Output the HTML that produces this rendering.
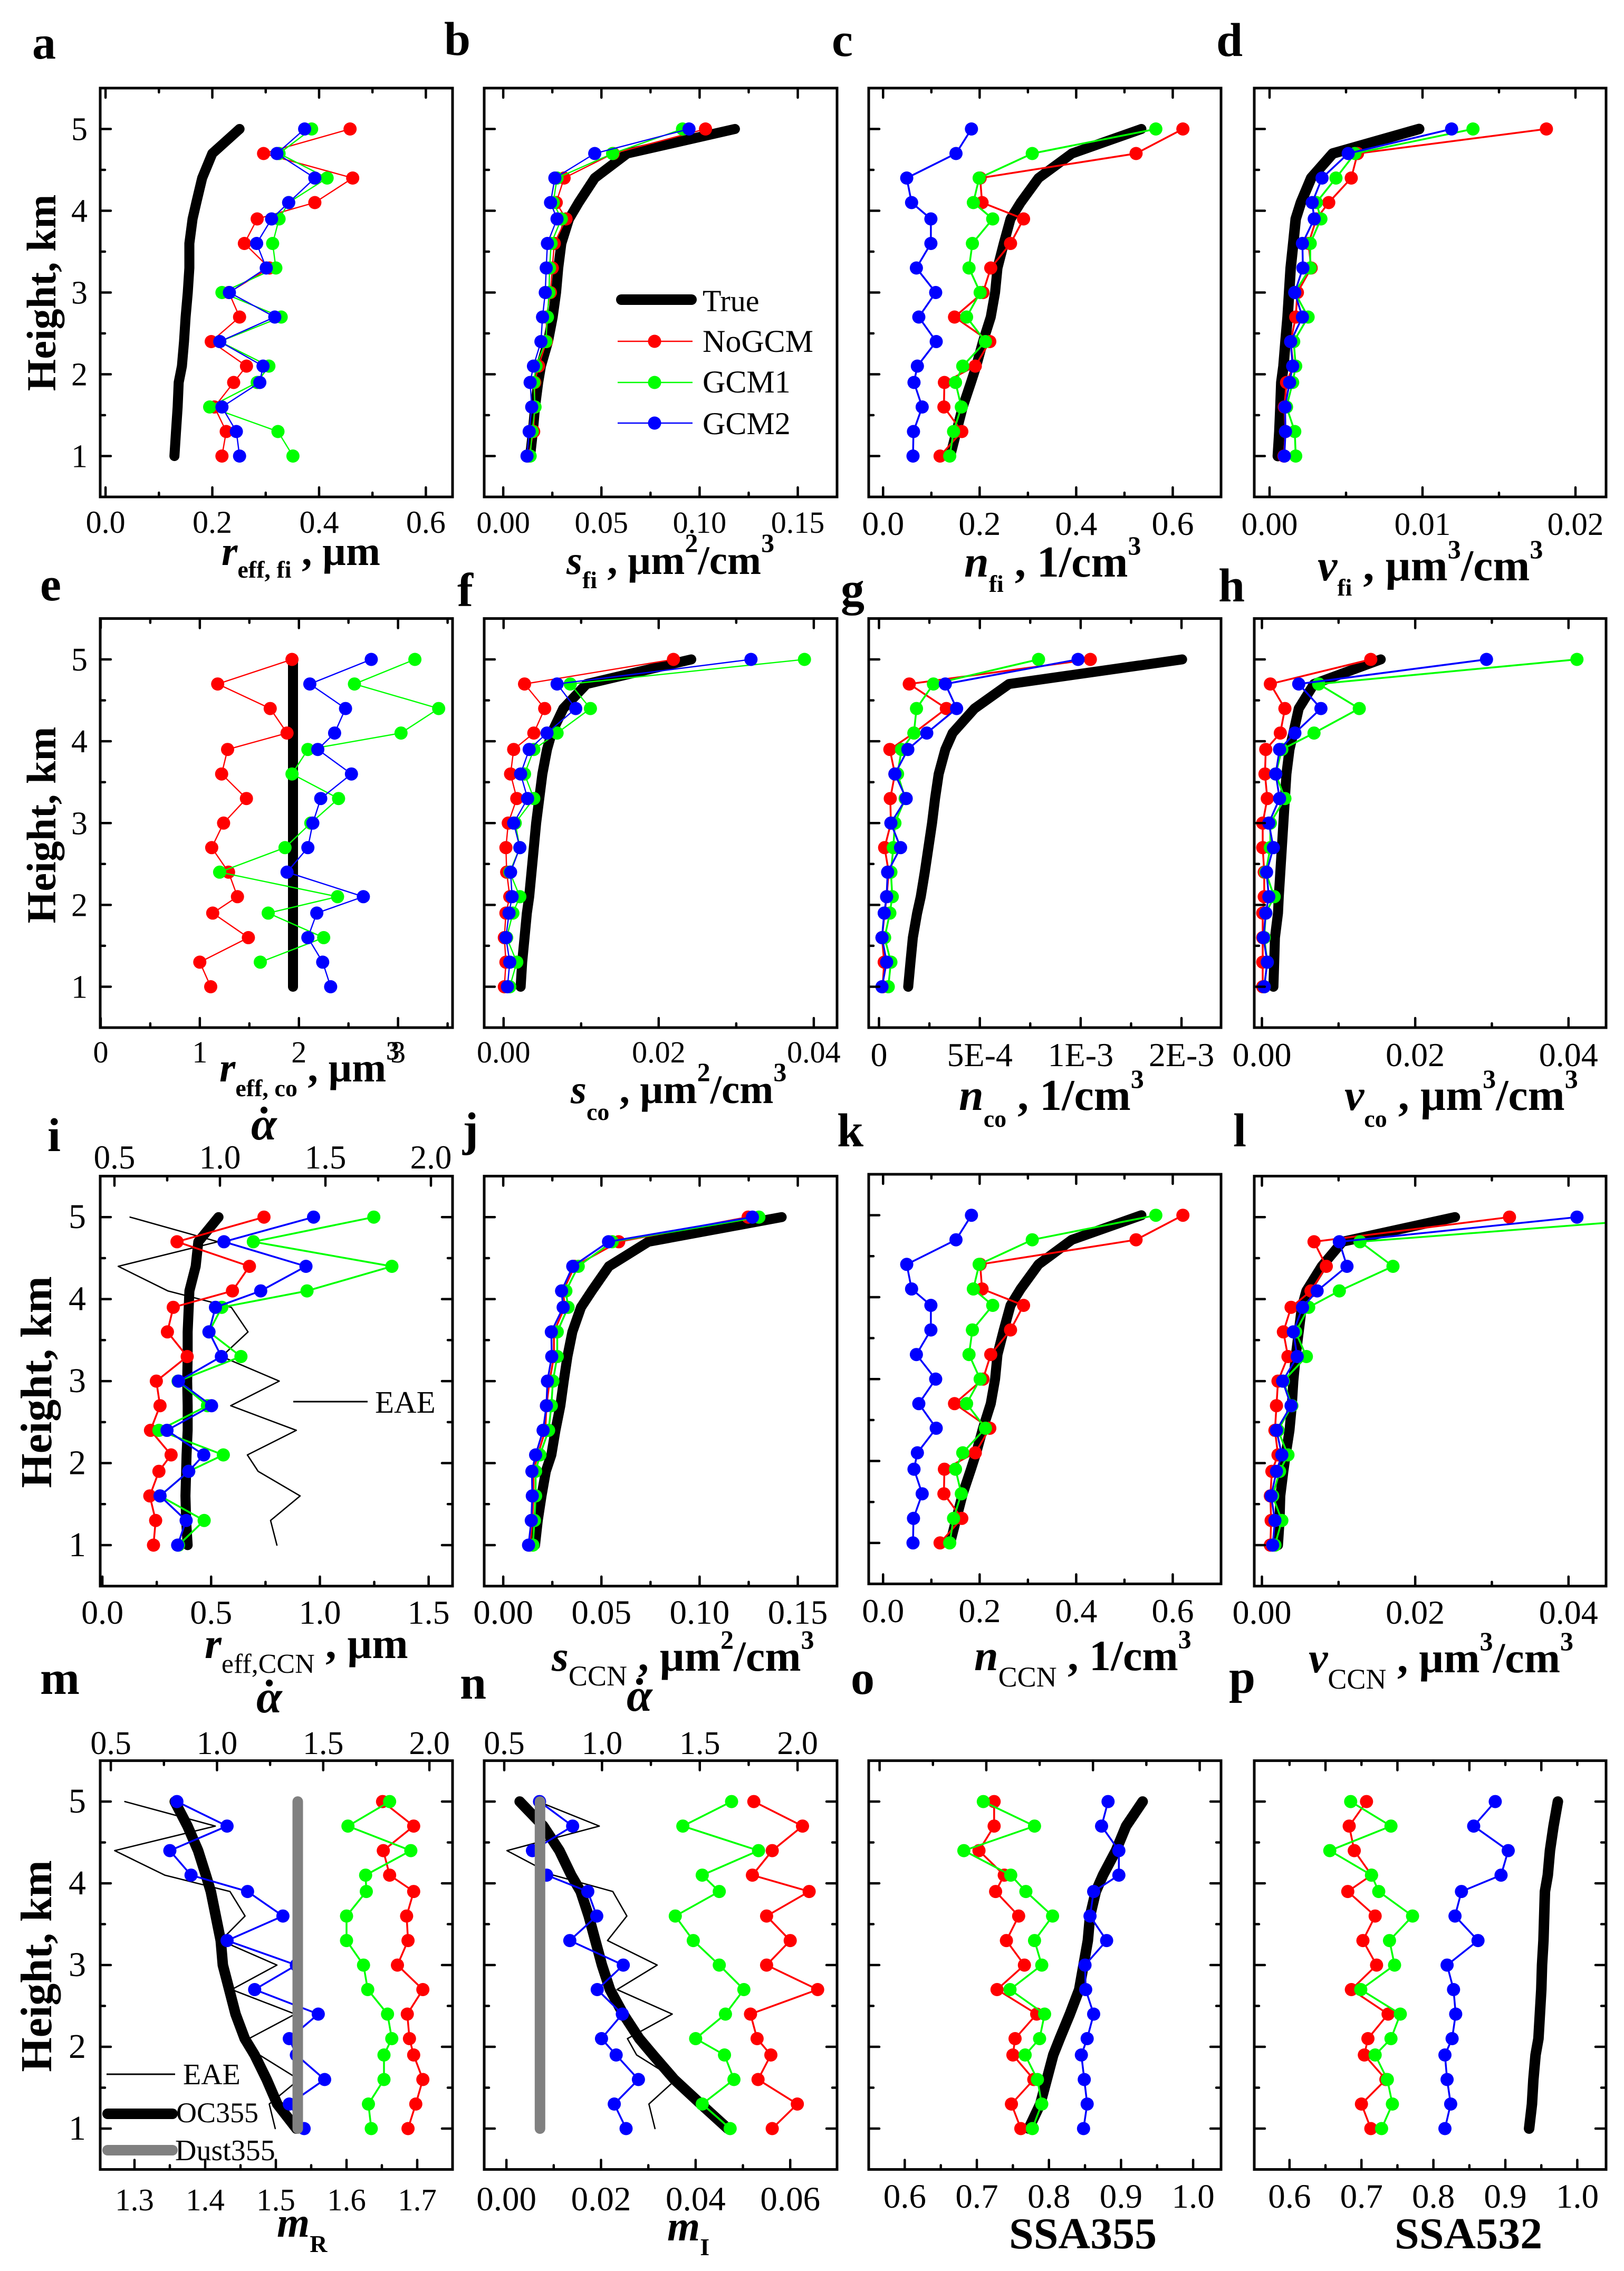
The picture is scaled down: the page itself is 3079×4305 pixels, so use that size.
<!DOCTYPE html>
<html lang="en">
<head>
<meta charset="utf-8">
<title>Vertical profile retrieval panels</title>
<style>
html,body{margin:0;padding:0;background:#fff}
svg{display:block}
text{font-family:"Liberation Serif",serif;fill:#000;white-space:pre}
.letter{font-size:90px;font-weight:bold}
.lab{font-size:80px;font-weight:bold}
.lab .i{font-style:italic}
.lab .s{font-size:46px}
.lab .u{font-size:50px}
.lab .c{font-size:54px;font-weight:normal}
.alpha{font-size:88px;font-weight:bold;font-style:italic}
.yt{font-size:78px;font-weight:bold}
.leg{font-size:60px}
</style>
</head>
<body>
<svg id="figure" xmlns="http://www.w3.org/2000/svg" width="3079" height="4305" viewBox="0 0 3079 4305">
<rect x="0" y="0" width="3079" height="4305" fill="#fff"/>
<defs id="clips"></defs>
<g id="panels"></g>

<text class="letter" x="61" y="111">a</text>
<text class="letter" x="842" y="104">b</text>
<text class="letter" x="1577" y="106">c</text>
<text class="letter" x="2306" y="106">d</text>
<text class="letter" x="76" y="1138">e</text>
<text class="letter" x="867" y="1149">f</text>
<text class="letter" x="1594" y="1147">g</text>
<text class="letter" x="2310" y="1140">h</text>
<text class="letter" x="90" y="2182">i</text>
<text class="letter" x="877" y="2171">j</text>
<text class="letter" x="1587" y="2173">k</text>
<text class="letter" x="2338" y="2173">l</text>
<text class="letter" x="76" y="3211">m</text>
<text class="letter" x="872" y="3220">n</text>
<text class="letter" x="1613" y="3211">o</text>
<text class="letter" x="2330" y="3209">p</text>

<text class="yt" transform="translate(105,555) rotate(-90)" text-anchor="middle">Height, km</text>
<text class="yt" transform="translate(105,1564) rotate(-90)" text-anchor="middle">Height, km</text>
<text class="yt" style="font-size:84px" transform="translate(97,2620) rotate(-90)" text-anchor="middle">Height, km</text>
<text class="yt" style="font-size:84px" transform="translate(97,3727) rotate(-90)" text-anchor="middle">Height, km</text>

<text class="lab" style="font-size:78px" x="420" y="1071"><tspan class="i">r</tspan><tspan class="s" dy="24">eff, fi</tspan><tspan dy="-24"> , µm</tspan></text>
<text class="lab" style="font-size:77px" x="1074" y="1088"><tspan class="i">s</tspan><tspan class="s" dy="27">fi</tspan><tspan dy="-27"> , µm</tspan><tspan class="u" dy="-42">2</tspan><tspan dy="42">/cm</tspan><tspan class="u" dy="-42">3</tspan></text>
<text class="lab" style="font-size:84px" x="1828" y="1093"><tspan class="i">n</tspan><tspan class="s" dy="29">fi</tspan><tspan dy="-29"> , 1/cm</tspan><tspan class="u" dy="-42">3</tspan></text>
<text class="lab" style="font-size:84px" x="2498" y="1100"><tspan class="i">v</tspan><tspan class="s" dy="29">fi</tspan><tspan dy="-29"> , µm</tspan><tspan class="u" dy="-42">3</tspan><tspan dy="42">/cm</tspan><tspan class="u" dy="-42">3</tspan></text>
<text class="lab" style="font-size:78px" x="416" y="2050"><tspan class="i">r</tspan><tspan class="s" dy="28">eff, co</tspan><tspan dy="-28"> , µm</tspan><tspan class="u" dy="-42">3</tspan></text>
<text class="lab" style="font-size:77px" x="1082" y="2091"><tspan class="i">s</tspan><tspan class="s" dy="32">co</tspan><tspan dy="-32"> , µm</tspan><tspan class="u" dy="-42">2</tspan><tspan dy="42">/cm</tspan><tspan class="u" dy="-42">3</tspan></text>
<text class="lab" style="font-size:84px" x="1818" y="2104"><tspan class="i">n</tspan><tspan class="s" dy="32">co</tspan><tspan dy="-32"> , 1/cm</tspan><tspan class="u" dy="-42">3</tspan></text>
<text class="lab" style="font-size:84px" x="2549" y="2104"><tspan class="i">v</tspan><tspan class="s" dy="32">co</tspan><tspan dy="-32"> , µm</tspan><tspan class="u" dy="-42">3</tspan><tspan dy="42">/cm</tspan><tspan class="u" dy="-42">3</tspan></text>
<text class="lab" style="font-size:82px" x="388" y="3143"><tspan class="i">r</tspan><tspan class="c" dy="28" style="font-size:52px">eff,CCN</tspan><tspan dy="-28"> , µm</tspan></text>
<text class="lab" style="font-size:82px" x="1046" y="3167"><tspan class="i">s</tspan><tspan class="c" dy="28">CCN</tspan><tspan dy="-28"> , µm</tspan><tspan class="u" dy="-42">2</tspan><tspan dy="42">/cm</tspan><tspan class="u" dy="-42">3</tspan></text>
<text class="lab" style="font-size:82px" x="1847" y="3166"><tspan class="i">n</tspan><tspan class="c" dy="31">CCN</tspan><tspan dy="-31"> , 1/cm</tspan><tspan class="u" dy="-42">3</tspan></text>
<text class="lab" style="font-size:82px" x="2481" y="3170"><tspan class="i">v</tspan><tspan class="c" dy="31">CCN</tspan><tspan dy="-31"> , µm</tspan><tspan class="u" dy="-42">3</tspan><tspan dy="42">/cm</tspan><tspan class="u" dy="-42">3</tspan></text>
<text class="lab" x="525" y="4240"><tspan class="i">m</tspan><tspan class="s" dy="29">R</tspan></text>
<text class="lab" x="1265" y="4247"><tspan class="i">m</tspan><tspan class="s" dy="28">I</tspan></text>
<text class="lab" style="font-size:84px" x="1913" y="4262">SSA355</text>
<text class="lab" style="font-size:84px" x="2644" y="4262">SSA532</text>

<text class="alpha" x="476" y="2160">α<tspan dx="-44">˙</tspan></text>
<text class="alpha" x="486" y="3246">α<tspan dx="-44">˙</tspan></text>
<text class="alpha" x="1188" y="3243">α<tspan dx="-44">˙</tspan></text>

<g>
  <line x1="1178" y1="568" x2="1311" y2="568" stroke="#000" stroke-width="20" stroke-linecap="round"/>
  <text class="leg" x="1332" y="590" style="font-size:58px">True</text>
  <line x1="1171" y1="647" x2="1313" y2="647" stroke="#f00" stroke-width="2.5"/>
  <circle cx="1241" cy="647" r="12.5" fill="#f00"/>
  <text class="leg" x="1332" y="667">NoGCM</text>
  <line x1="1171" y1="725" x2="1313" y2="725" stroke="#0f0" stroke-width="2.5"/>
  <circle cx="1241" cy="725" r="12.5" fill="#0f0"/>
  <text class="leg" x="1332" y="744">GCM1</text>
  <line x1="1171" y1="802" x2="1313" y2="802" stroke="#00f" stroke-width="2.5"/>
  <circle cx="1241" cy="802" r="12.5" fill="#00f"/>
  <text class="leg" x="1332" y="823">GCM2</text>
</g>
<g>
  <line x1="556" y1="2657" x2="697" y2="2657" stroke="#000" stroke-width="3"/>
  <text class="leg" x="711" y="2678" style="font-size:59px">EAE</text>
</g>
<g>
  <line x1="202" y1="3932" x2="332" y2="3932" stroke="#000" stroke-width="3"/>
  <text class="leg" x="347" y="3951" style="font-size:56px">EAE</text>
  <line x1="204" y1="4007" x2="327" y2="4007" stroke="#000" stroke-width="20" stroke-linecap="round"/>
  <text class="leg" x="334" y="4023" style="font-size:54px">OC355</text>
  <line x1="204" y1="4076" x2="327" y2="4076" stroke="#808080" stroke-width="20" stroke-linecap="round"/>
  <text class="leg" x="332" y="4095" style="font-size:56px">Dust355</text>
</g>
</svg>

<script>
const heights = [5,4.7,4.4,4.1,3.9,3.6,3.3,3,2.7,2.4,2.1,1.9,1.6,1.3,1];
const yTickValues = [1,2,3,4,5];
const yTickLabels = ['1','2','3','4','5'];

const aTrue = [.251,.2,.181,.17,.163,.157,.157,.154,.15,.147,.143,.137,.135,.132,.129];
const aRed = [.458,.296,.463,.392,.284,.26,.307,.231,.251,.198,.264,.24,.204,.226,.218];
const aGreen = [.386,.325,.415,.343,.325,.313,.319,.218,.329,.214,.306,.284,.195,.323,.351];
const aBlue = [.373,.321,.392,.343,.311,.283,.301,.232,.317,.214,.295,.289,.218,.245,.251];
const aTickValues = [0,.2,.4,.6];
const aTickLabels = ['0.0','0.2','0.4','0.6'];

const bTrue = [.118,.0631,.0466,.0384,.0335,.0296,.028,.0269,.0252,.0228,.0192,.0178,.0162,.0151,.0137];
const bRed = [.103,.056,.031,.027,.032,.026,.025,.024,.022,.022,.018,.016,.016,.0155,.013];
const bGreen = [.0913,.0557,.0274,.0255,.0296,.0244,.0236,.0233,.0225,.0217,.0167,.0156,.0162,.0148,.0137];
const bBlue = [.0946,.0466,.0263,.0241,.0274,.0225,.0219,.0214,.02,.0192,.0154,.0137,.0145,.0132,.0121];
const bTickValues = [0,.05,.1,.15];
const bTickLabels = ['0.00','0.05','0.10','0.15'];

const cTrue = [.535,.391,.322,.285,.264,.25,.237,.232,.223,.207,.193,.182,.165,.152,.139];
const cRed = [.621,.524,.201,.205,.291,.264,.223,.207,.148,.221,.191,.127,.126,.163,.118];
const cGreen = [.565,.309,.199,.187,.227,.185,.178,.201,.173,.212,.165,.15,.162,.146,.138];
const cBlue = [.183,.151,.049,.059,.099,.099,.069,.109,.074,.11,.071,.064,.081,.063,.062];
const cTickValues = [0,.2,.4,.6];
const cTickLabels = ['0.0','0.2','0.4','0.6'];

const dTrue = [.00978,.00413,.00272,.00205,.00171,.00155,.00138,.00128,.00118,.00104,.00091,.00077,.00071,.00064,.00054];
const dRed = [.0181,.00575,.00534,.00387,.00306,.00255,.00272,.00182,.00171,.00138,.00155,.00111,.00097,.00104,.00094];
const dGreen = [.0133,.00558,.00434,.00306,.00336,.00266,.00266,.00165,.00252,.00158,.00171,.00151,.00111,.00165,.00171];
const dBlue = [.0119,.00514,.00343,.00279,.00292,.00215,.00218,.00165,.00215,.00138,.00151,.00131,.00101,.00104,.00097];
const dTickValues = [0,.01,.02];
const dTickLabels = ['0.00','0.01','0.02'];

const eTrue = [1.94,1.94,1.94,1.94,1.94,1.94,1.94,1.94,1.94,1.94,1.94,1.94,1.94,1.94,1.94];
const eRed = [1.93,1.18,1.71,1.88,1.28,1.22,1.47,1.24,1.12,1.29,1.38,1.13,1.49,1.0,1.11];
const eGreen = [3.17,2.56,3.41,3.03,2.09,1.93,2.4,2.12,1.86,1.2,2.39,1.69,2.25,1.61,null];
const eBlue = [2.73,2.11,2.47,2.36,2.19,2.53,2.22,2.14,2.09,1.88,2.65,2.18,2.09,2.24,2.32];
const eTickValues = [0,1,2,3];
const eTickLabels = ['0','1','2','3'];

const fTrue = [.0242,.0107,.0077,.0062,.0056,.005,.0046,.0042,.0039,.0036,.0033,.003,.0027,.0024,.0022];
const fRed = [.0219,.0027,.0053,.0039,.0013,.0009,.0017,.0006,.0003,.0004,.0008,.0003,.0001,.0003,.0001];
const fGreen = [.0388,.0086,.0112,.0069,.0039,.0027,.0039,.0015,.0021,.0008,.0021,.0012,.0004,.0017,.0008];
const fBlue = [.0319,.0069,.0093,.0056,.0033,.0022,.0031,.0013,.0021,.0009,.0011,.0007,.0003,.0008,.0005];
const fTickValues = [0,.02,.04];
const fTickLabels = ['0.00','0.02','0.04'];

const gTrue = [1.503e-3,6.45e-4,4.74e-4,3.65e-4,3.29e-4,2.96e-4,2.78e-4,2.63e-4,2.45e-4,2.27e-4,2.07e-4,1.89e-4,1.68e-4,1.56e-4,1.45e-4];
const gRed = [1.048e-3,1.5e-4,3.34e-4,1.73e-4,5.4e-5,7.9e-5,5.6e-5,5.9e-5,2.8e-5,4.8e-5,3.8e-5,2.8e-5,1.5e-5,2.6e-5,1.8e-5];
const gGreen = [7.91e-4,2.7e-4,1.86e-4,1.73e-4,1.12e-4,9.2e-5,1.3e-4,7.9e-5,7.1e-5,5.9e-5,6.6e-5,5.4e-5,2.8e-5,5.9e-5,4.6e-5];
const gBlue = [9.87e-4,3.29e-4,3.85e-4,2.37e-4,1.43e-4,7.9e-5,1.35e-4,5.9e-5,1.07e-4,4.3e-5,3.8e-5,2.6e-5,1.5e-5,3.8e-5,1.5e-5];
const gTickValues = [0,5e-4,1e-3,1.5e-3];
const gTickLabels = ['0','5E-4','1E-3','2E-3'];

const hTrue = [.0155,.0068,.0048,.0041,.0036,.0032,.003,.0028,.0026,.0024,.0022,.0021,.0017,.0016,.0015];
const hRed = [.0142,.0011,.003,.0024,.0005,.0004,.0007,.0001,.0001,.0003,.0003,.0001,.0001,.0001,.0001];
const hGreen = [.0411,.0074,.0127,.0068,.0026,.0018,.003,.0011,.0011,.0005,.0016,.0005,.0003,.0007,.0003];
const hBlue = [.0293,.0048,.0077,.0043,.0023,.0018,.0023,.0009,.0015,.0006,.0009,.0005,.0002,.0007,.0003];
const hTickValues = [0,.02,.04];
const hTickLabels = ['0.00','0.02','0.04'];

const iTrue = [.534,.441,.429,.4,.397,.392,.392,.39,.392,.392,.387,.385,.382,.385,.392];
const iRed = [.743,.343,.676,.598,.326,.299,.39,.248,.265,.221,.316,.26,.218,.245,.235];
const iGreen = [1.248,.694,1.331,.941,.549,.49,.637,.348,.483,.26,.556,.397,.265,.468,.35];
const iBlue = [.971,.559,.936,.728,.52,.49,.547,.35,.502,.297,.466,.397,.265,.385,.346];
const iEae = [.574,.99,.518,.753,1.054,1.133,1.008,1.281,1.051,1.362,1.13,1.181,1.38,1.24,1.27];
const iTickValues = [0,.5,1,1.5];
const iTickLabels = ['0.0','0.5','1.0','1.5'];
const alphaTickValues = [.5,1,1.5,2];
const alphaTickLabels = ['0.5','1.0','1.5','2.0'];

const jTrue = [.1418,.0739,.0538,.0451,.0396,.0352,.0327,.0308,.0291,.0266,.0245,.0217,.0195,.0176,.0162];
const jRed = [.1247,.0588,.0363,.0305,.0313,.0258,.0258,.0236,.022,.0214,.0176,.0154,.0154,.0148,.0135];
const jGreen = [.1302,.0555,.0382,.0319,.033,.0275,.0275,.0253,.0245,.0231,.0187,.0165,.0165,.0159,.0151];
const jBlue = [.1269,.0536,.0354,.0297,.0305,.0245,.0247,.0225,.022,.0203,.0165,.0146,.0148,.0143,.0129];
const jTickValues = [0,.05,.1,.15];
const jTickLabels = ['0.00','0.05','0.10','0.15'];

const kTrue = [.535,.391,.322,.285,.264,.25,.237,.232,.223,.207,.193,.182,.165,.152,.139];
const kRed = [.621,.524,.201,.205,.291,.264,.223,.207,.148,.221,.191,.127,.126,.163,.118];
const kGreen = [.565,.309,.199,.187,.227,.185,.178,.201,.173,.212,.165,.15,.162,.146,.138];
const kBlue = [.183,.151,.049,.059,.099,.099,.069,.109,.074,.11,.071,.064,.081,.063,.062];
const kTickValues = [0,.2,.4,.6];
const kTickLabels = ['0.0','0.2','0.4','0.6'];

const lTrue = [.0252,.0105,.0078,.0058,.0052,.0048,.0044,.0041,.0039,.0036,.0031,.0028,.0024,.0023,.0021];
const lRed = [.0323,.0068,.0084,.0064,.0038,.0028,.0034,.0021,.0019,.0017,.0021,.0013,.0011,.0012,.0011];
const lGreen = [.0547,.0128,.0171,.0101,.0061,.0044,.0058,.0028,.0039,.0021,.0034,.0023,.0014,.0026,.0017];
const lBlue = [.0411,.0101,.0111,.0072,.0053,.0041,.0046,.0027,.0038,.0019,.0026,.0019,.0012,.0017,.0014];
const lTickValues = [0,.02,.04];
const lTickLabels = ['0.00','0.02','0.04'];

const mTrue = [1.357,1.375,1.39,1.401,1.408,1.415,1.422,1.425,1.434,1.443,1.456,1.47,1.487,1.502,1.529];
const mRed = [1.651,1.695,1.652,1.661,1.695,1.685,1.687,1.672,1.708,1.686,1.689,1.695,1.708,1.698,1.687];
const mGreen = [1.661,1.602,1.691,1.627,1.628,1.6,1.6,1.624,1.63,1.658,1.664,1.653,1.653,1.631,1.635];
const mBlue = [1.36,1.431,1.35,1.38,1.46,1.51,1.431,1.529,1.47,1.56,1.519,1.529,1.569,1.519,1.54];
const mEae = [.566,.992,.518,.754,1.061,1.132,1.018,1.282,1.069,1.368,1.15,1.2,1.386,1.246,1.274];
const mDust = [1.531,1.531,1.531,1.531,1.531,1.531,1.531,1.531,1.531,1.531,1.531,1.531,1.531,1.531,1.531];
const mTickValues = [1.3,1.4,1.5,1.6,1.7];
const mTickLabels = ['1.3','1.4','1.5','1.6','1.7'];

const nTrue = [.0028,.0078,.0112,.0137,.0157,.0174,.0188,.0202,.0219,.0247,.0281,.031,.0355,.0411,.0468];
const nRed = [.0523,.0626,.0562,.052,.064,.055,.06,.055,.0658,.0516,.053,.0559,.0532,.0615,.0562];
const nGreen = [.0476,.0373,.0533,.0414,.045,.0357,.0395,.045,.0502,.0463,.04,.0461,.0481,.0414,.0473];
const nBlue = [.007,.014,.0055,.0085,.0172,.0191,.0134,.0247,.0192,.0245,.0201,.0232,.0279,.0228,.0253];
const nEae = [.674,.986,.514,.751,1.055,1.127,1.028,1.282,1.077,1.359,1.13,1.177,1.378,1.24,1.271];
const nDust = [.0071,.0071,.0071,.0071,.0071,.0071,.0071,.0071,.0071,.0071,.0071,.0071,.0071,.0071,.0071];
const nTickValues = [0,.02,.04,.06];
const nTickLabels = ['0.00','0.02','0.04','0.06'];

const oTrue = [.93,.907,.893,.875,.865,.857,.854,.848,.842,.829,.815,.806,.797,.788,.772];
const oRed = [.724,.724,.703,.738,.726,.758,.741,.766,.728,.783,.753,.75,.779,.748,.761];
const oGreen = [.709,.78,.682,.747,.768,.805,.78,.79,.746,.794,.787,.767,.784,.79,.777];
const oBlue = [.882,.873,.897,.897,.862,.857,.88,.85,.851,.862,.853,.845,.849,.853,.848];
const oTickValues = [.6,.7,.8,.9,1];
const oTickLabels = ['0.6','0.7','0.8','0.9','1.0'];

const pTrue = [.973,.967,.962,.959,.955,.954,.953,.951,.95,.948,.946,.942,.939,.937,.933];
const pRed = [.707,.683,.69,.714,.681,.719,.702,.721,.686,.737,.709,.704,.734,.7,.713];
const pGreen = [.685,.741,.656,.714,.724,.771,.739,.746,.699,.754,.741,.719,.736,.743,.728];
const pBlue = [.886,.856,.904,.894,.839,.83,.862,.819,.828,.831,.826,.816,.819,.824,.816];
const pTickValues = [.6,.7,.8,.9,1];
const pTickLabels = ['0.6','0.7','0.8','0.9','1.0'];
const pTopTickValues = [.65,.75,.85,.95];

const panels = [
  {id:'a',box:[190,167,858,942],xlim:[-.01,.65],ticks:aTickValues,labels:aTickLabels,fs:60,base:1010,lw:2.4,tw:19,yl:[166,62],tru:aTrue,red:aRed,green:aGreen,blue:aBlue},
  {id:'b',box:[918,167,1587,942],xlim:[-.0097,.17],ticks:bTickValues,labels:bTickLabels,fs:58,base:1010,lw:2.4,tw:19,tru:bTrue,red:bRed,green:bGreen,blue:bBlue},
  {id:'c',box:[1647,167,2315,942],xlim:[-.0298,.7],ticks:cTickValues,labels:cTickLabels,fs:64,base:1014,lw:3.5,tw:19,tru:cTrue,red:cRed,green:cGreen,blue:cBlue},
  {id:'d',box:[2378,167,3045,942],xlim:[-.001,.022],ticks:dTickValues,labels:dTickLabels,fs:61,base:1014,lw:3.5,tw:20,tru:dTrue,red:dRed,green:dGreen,blue:dBlue},
  {id:'e',box:[190,1172.5,858,1948],xlim:[-.005,3.55],ticks:eTickValues,labels:eTickLabels,fs:58,base:2014,lw:2.4,tw:19,yl:[166,62],tru:eTrue,red:eRed,green:eGreen,blue:eBlue},
  {id:'f',box:[918,1172.5,1587,1948],xlim:[-.0025,.043],ticks:fTickValues,labels:fTickLabels,fs:58,base:2014,lw:2.4,tw:19,tru:fTrue,red:fRed,green:fGreen,blue:fBlue},
  {id:'g',box:[1647,1172.5,2315,1948],xlim:[-5.1e-5,1.696e-3],ticks:gTickValues,labels:gTickLabels,fs:64,base:2021,lw:3.5,tw:19,tru:gTrue,red:gRed,green:gGreen,blue:gBlue},
  {id:'h',box:[2378,1172.5,3045,1948],xlim:[-.001,.0449],ticks:hTickValues,labels:hTickLabels,fs:64,base:2021,lw:3.5,tw:19,tru:hTrue,red:hRed,green:hGreen,blue:hBlue},
  {id:'i',box:[190,2229.5,858,3006.7],xlim:[-.01,1.61],ticks:iTickValues,labels:iTickLabels,fs:64,base:3078,lw:3.5,tw:19,yl:[163,66],right:true,tru:iTrue,red:iRed,green:iGreen,blue:iBlue,eae:iEae,topLim:[.4325,2.1025],topTicks:alphaTickValues,topLabels:alphaTickLabels,topFs:63,topBase:2215},
  {id:'j',box:[918,2229.5,1587,3006.7],xlim:[-.0097,.17],ticks:jTickValues,labels:jTickLabels,fs:65,base:3078,lw:3.5,tw:19,tru:jTrue,red:jRed,green:jGreen,blue:jBlue},
  {id:'k',box:[1647,2226,2315,3002.5],xlim:[-.0298,.7],ticks:kTickValues,labels:kTickLabels,fs:64,base:3075,lw:3.5,tw:19,tru:kTrue,red:kRed,green:kGreen,blue:kBlue},
  {id:'l',box:[2378,2229.5,3045,3006.7],xlim:[-.001,.0449],ticks:lTickValues,labels:lTickLabels,fs:64,base:3078,lw:3.5,tw:19,tru:lTrue,red:lRed,green:lGreen,blue:lBlue},
  {id:'m',box:[190,3337.6,858,4112.5],xlim:[1.2515,1.75],ticks:mTickValues,labels:mTickLabels,fs:59,base:4190,lw:3.5,tw:20,yl:[163,66],right:true,tru:mTrue,red:mRed,green:mGreen,blue:mBlue,eae:mEae,dust:mDust,topLim:[.45,2.109],topTicks:alphaTickValues,topLabels:alphaTickLabels,topFs:62,topBase:3325},
  {id:'n',box:[918,3337.6,1587,4112.5],xlim:[-.0047,.0699],ticks:nTickValues,labels:nTickLabels,fs:65,base:4190,lw:3.5,tw:20,right:true,tru:nTrue,red:nRed,green:nGreen,blue:nBlue,eae:nEae,dust:nDust,topLim:[.3975,2.202],topTicks:alphaTickValues,topLabels:alphaTickLabels,topFs:62,topBase:3325},
  {id:'o',box:[1647,3337.6,2315,4112.5],xlim:[.55,1.0387],ticks:oTickValues,labels:oTickLabels,fs:65,base:4185,lw:3.5,tw:20,right:true,tru:oTrue,red:oRed,green:oGreen,blue:oBlue,topLim:[.449,2.1],topTicks:alphaTickValues,topLabels:[],topFs:62,topBase:3325},
  {id:'p',box:[2378,3337.6,3045,4112.5],xlim:[.551,1.04],ticks:pTickValues,labels:pTickLabels,fs:65,base:4185,lw:3.5,tw:20,right:true,tru:pTrue,red:pRed,green:pGreen,blue:pBlue,topLim:[.551,1.04],topTicks:pTopTickValues,topLabels:[],topFs:62,topBase:3325}
];

const NS = 'http://www.w3.org/2000/svg';
const panelsLayer = document.getElementById('panels');
const clipsLayer = document.getElementById('clips');

function svgEl(tag, attrs, parent) {
  const el = document.createElementNS(NS, tag);
  for (const k in attrs) el.setAttribute(k, attrs[k]);
  parent.appendChild(el);
  return el;
}
function xAxis(p, lim) {
  return v => p.box[0] + (v - lim[0]) / (lim[1] - lim[0]) * (p.box[2] - p.box[0]);
}
function yAxis(p) {
  return h => p.box[3] - (h - 0.5) / 5 * (p.box[3] - p.box[1]);
}
function minorTicks(majors, lim) {
  const out = [];
  const step = majors[1] - majors[0];
  out.push(majors[0] - step / 2);
  majors.forEach(m => out.push(m + step / 2));
  return out.filter(v => v > lim[0] && v < lim[1]);
}
function drawSeries(g, p, x, y, values, color, width, key, withDots, clipId) {
  const idx = values.map((v, i) => i).filter(i => values[i] !== null);
  const pts = idx.map(i => x(values[i]).toFixed(1) + ',' + y(heights[i]).toFixed(1)).join(' ');
  const line = svgEl('polyline', {points: pts, fill: 'none', stroke: color, 'stroke-width': width, 'stroke-linejoin': 'round', 'stroke-linecap': withDots ? 'butt' : 'round', 'clip-path': 'url(#' + clipId + ')'}, g);
  
  
  if (!withDots) return;
  idx.forEach(i => {
    const dot = svgEl('circle', {cx: x(values[i]).toFixed(1), cy: y(heights[i]).toFixed(1), r: 12.5, fill: color, 'clip-path': 'url(#' + clipId + ')'}, g);
    
    
  });
}
function drawVTick(g, xp, yEdge, dir, len, name) {
  const t = svgEl('line', {x1: xp, x2: xp, y1: yEdge, y2: yEdge + dir * (len - 2), stroke: '#000', 'stroke-width': 4.5, 'stroke-linecap': 'round'}, g);
  
  
}
function drawHTick(g, xEdge, yp, dir, len, name) {
  const t = svgEl('line', {x1: xEdge, x2: xEdge + dir * (len - 2), y1: yp, y2: yp, stroke: '#000', 'stroke-width': 4.5, 'stroke-linecap': 'round'}, g);
  
  
}

panels.forEach(p => {
  const [l, t, r, b] = p.box;
  const g = svgEl('g', {}, panelsLayer);
  
  

  const clipId = 'clip-' + p.id;
  const clip = svgEl('clipPath', {id: clipId}, clipsLayer);
  svgEl('rect', {x: l, y: t, width: r - l, height: b - t}, clip);

  const x = xAxis(p, p.xlim);
  const y = yAxis(p);

  if (p.eae) {
    const xTop = xAxis(p, p.topLim);
    drawSeries(g, p, xTop, y, p.eae, '#000', 2.6, 'eae', false, clipId);
  }
  drawSeries(g, p, x, y, p.tru, '#000', p.tw, 'true', false, clipId);
  drawSeries(g, p, x, y, p.red, '#f00', p.lw, 'nogcm', true, clipId);
  drawSeries(g, p, x, y, p.green, '#0f0', p.lw, 'gcm1', true, clipId);
  drawSeries(g, p, x, y, p.blue, '#00f', p.lw, 'gcm2', true, clipId);
  if (p.dust) drawSeries(g, p, x, y, p.dust, '#808080', 20, 'dust355', false, clipId);

  const frame = svgEl('rect', {x: l, y: t, width: r - l, height: b - t, fill: 'none', stroke: '#000', 'stroke-width': 5}, g);
  
  

  p.ticks.forEach((v, i) => {
    drawVTick(g, x(v), b, -1, 20, 'x-tick-' + p.id);
    const label = svgEl('text', {x: x(v), y: p.base, 'text-anchor': 'middle', 'font-size': p.fs}, g);
    label.textContent = p.labels[i];
    
    
  });
  minorTicks(p.ticks, p.xlim).forEach(v => drawVTick(g, x(v), b, -1, 10, 'x-minor-tick-' + p.id));

  if (p.topLim) {
    const xTop = xAxis(p, p.topLim);
    p.topTicks.forEach((v, i) => {
      drawVTick(g, xTop(v), t, 1, 20, 'top-tick-' + p.id);
      if (p.topLabels[i]) {
        const label = svgEl('text', {x: xTop(v), y: p.topBase, 'text-anchor': 'middle', 'font-size': p.topFs}, g);
        label.textContent = p.topLabels[i];
        
        
      }
    });
    minorTicks(p.topTicks, p.topLim).forEach(v => drawVTick(g, xTop(v), t, 1, 10, 'top-minor-tick-' + p.id));
  } else {
    p.ticks.forEach(v => drawVTick(g, x(v), t, 1, 20, 'top-tick-' + p.id));
    minorTicks(p.ticks, p.xlim).forEach(v => drawVTick(g, x(v), t, 1, 10, 'top-minor-tick-' + p.id));
  }

  yTickValues.forEach((v, i) => {
    drawHTick(g, l, y(v), 1, 22, 'y-tick-' + p.id);
    if (p.right) drawHTick(g, r, y(v), -1, 22, 'right-tick-' + p.id);
    if (p.yl) {
      const label = svgEl('text', {x: p.yl[0], y: y(v) + 21, 'text-anchor': 'end', 'font-size': p.yl[1]}, g);
      label.textContent = yTickLabels[i];
      
      
    }
  });
  minorTicks(yTickValues, [0.5, 5.5]).forEach(v => {
    drawHTick(g, l, y(v), 1, 11, 'y-minor-tick-' + p.id);
    if (p.right) drawHTick(g, r, y(v), -1, 11, 'right-minor-tick-' + p.id);
  });
});
</script>
</body>
</html>
